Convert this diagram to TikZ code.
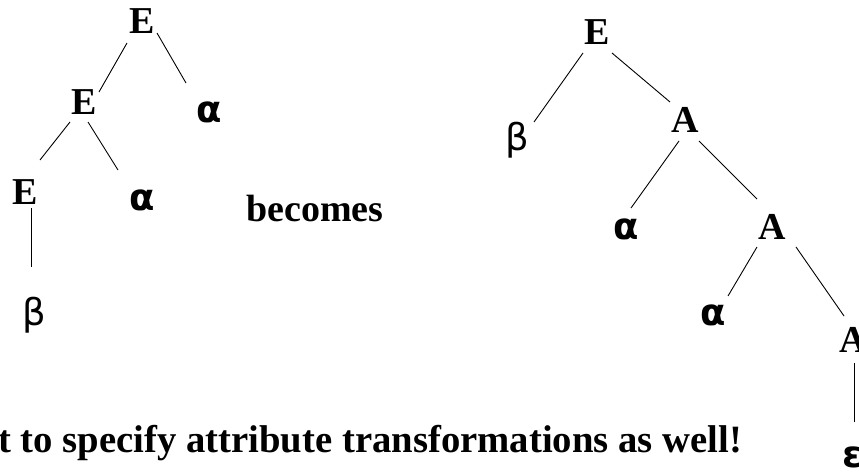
\documentclass[tikz,border=0pt]{standalone}
\usepackage{fontspec}
\setmainfont{Liberation Serif}
\newfontfamily\greekfont{DejaVu Sans}
\begin{document}
\begin{tikzpicture}[x=1pt,y=-1pt,
  lbl/.style={inner sep=0pt,font=\fontsize{38}{40}\selectfont\bfseries},
  grk/.style={inner sep=0pt,font=\fontsize{37}{40}\greekfont\bfseries},
  grkthin/.style={inner sep=0pt,font=\fontsize{37}{40}\greekfont},
  edge/.style={line width=0.9pt,black}]
\path[use as bounding box] (0,0) rectangle (859,471);
\clip (0,0) rectangle (859,471);
% left tree
\node[lbl] (E1) at (142,21) {E};
\node[lbl] (E2) at (84,102) {E};
\node[lbl] (E3) at (25,192) {E};
\node[grk] (a1) at (209,112) {α};
\node[grk] (a2) at (142,200) {α};
\node[grkthin] (b1) at (34,315) {β};
\node[lbl] (becomes) at (315,208.5) {becomes};
\draw[edge] ([shift={(-15,22)}]E1.center) -- ([shift={(15,-10)}]E2.center);
\draw[edge] ([shift={(15,12)}]E1.center) -- ([shift={(-23,-29)}]a1.center);
\draw[edge] ([shift={(-14,20)}]E2.center) -- ([shift={(15,-32)}]E3.center);
\draw[edge] ([shift={(4,20)}]E2.center) -- ([shift={(-24,-30)}]a2.center);
\draw[edge] ([shift={(6,16)}]E3.center) -- ([shift={(-3,-48)}]b1.center);
% right tree
\node[lbl] (R0) at (597,32.5) {E};
\node[grkthin] (b2) at (517,140) {β};
\node[lbl] (A1) at (685,120) {A};
\node[grk] (a3) at (626,229) {α};
\node[lbl] (A2) at (772,227) {A};
\node[grk] (a4) at (713,315) {α};
\node[lbl] (A3) at (853,340) {A};
\node[grk] (eps) at (853,457) {ε};
\draw[edge] ([shift={(-14,20.5)}]R0.center) -- ([shift={(17,-18)}]b2.center);
\draw[edge] ([shift={(15,20.5)}]R0.center) -- ([shift={(-15,-18)}]A1.center);
\draw[edge] ([shift={(-6,21)}]A1.center) -- ([shift={(5,-21)}]a3.center);
\draw[edge] ([shift={(14,21)}]A1.center) -- ([shift={(-15,-28)}]A2.center);
\draw[edge] ([shift={(-15,20)}]A2.center) -- ([shift={(15,-19)}]a4.center);
\draw[edge] ([shift={(24,20)}]A2.center) -- ([shift={(-9,-24)}]A3.center);
\draw[edge] ([shift={(1,23)}]A3.center) -- ([shift={(1,-35)}]eps.center);
% bottom text
\node[inner sep=0pt,font=\fontsize{38.7}{40}\selectfont\bfseries,anchor=base west] (note) at (-2,452) {t to specify attribute transformations as well!};
\end{tikzpicture}
\end{document}
